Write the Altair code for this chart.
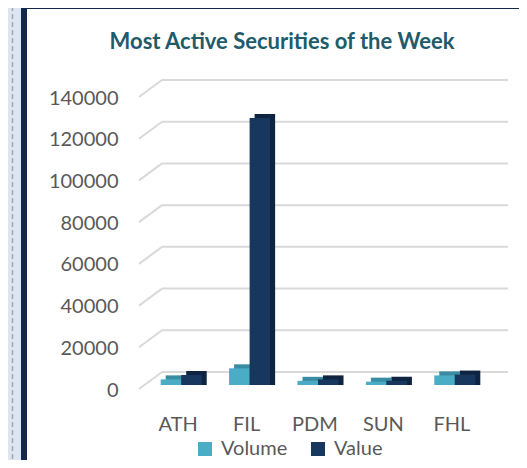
import altair as alt
import pandas as pd

categories = ["ATH", "FIL", "PDM", "SUN", "FHL"]
series = ["Volume", "Value"]
volume = [2700, 8000, 2000, 1600, 4600]
value = [4800, 128000, 2700, 2000, 5000]
y_ticks = [0, 20000, 40000, 60000, 80000, 100000, 120000, 140000]
title_text = "Most Active Securities of the Week"

front_colors = ["#4bacc6", "#17375e"]

rows = []
for c, vo, va in zip(categories, volume, value):
    rows.append({"sec": c, "series": "Volume", "amount": vo})
    rows.append({"sec": c, "series": "Value", "amount": va})
df = pd.DataFrame(rows)
grid_df = pd.DataFrame({"amount": y_ticks})
one = pd.DataFrame({"k": [0]})

W, H = 342, 292
FONT = "Lato"
LABEL = "#595959"

yscale = alt.Scale(domain=[0, 140000], nice=False, zero=True)
yaxis = alt.Axis(values=y_ticks, format="d", grid=False, domain=False, ticks=False, tickSize=0,
                 labelPadding=29, labelOffset=5, labelFont=FONT, labelFontSize=20,
                 labelColor=LABEL, title=None)
Y = alt.Y("amount:Q", scale=yscale, axis=yaxis, stack=None)

xoff = alt.XOffset("series:N", sort=series, scale=alt.Scale(paddingInner=0, paddingOuter=0))

# decorations (page strip, dashed separator, frame)
strip = alt.Chart(one).mark_rect(color="#dce6f2").encode(
    x=alt.value(-139), x2=alt.value(-121), y=alt.value(-95), y2=alt.value(380))
dashed = alt.Chart(one).mark_rule(color="#a6a6a6", strokeWidth=1.5, strokeDash=[5, 3]).encode(
    x=alt.value(-134.5), y=alt.value(-95), y2=alt.value(380))
frame_left = alt.Chart(one).mark_rect(color="#13294b").encode(
    x=alt.value(-126), x2=alt.value(-120), y=alt.value(-90), y2=alt.value(380))
frame_top = alt.Chart(one).mark_rect(color="#13294b").encode(
    x=alt.value(-126), x2=alt.value(390), y=alt.value(-90), y2=alt.value(-84))

title = alt.Chart(one).mark_text(text=title_text, font=FONT, fontSize=22, fontWeight="bold",
                                 color="#215b6b", align="center", baseline="alphabetic").encode(
    x=alt.value(135), y=alt.value(-44))

grid = alt.Chart(grid_df).mark_rule(color="#d9d9d9", strokeWidth=2, yOffset=-13).encode(
    y=Y, x=alt.value(15), x2=alt.value(361))
stubs = alt.Chart(grid_df).mark_rule(color="#d9d9d9", strokeWidth=2, yOffset=4, y2Offset=-13).encode(
    y=Y, y2="amount:Q", x=alt.value(-8), x2=alt.value(15))

back = alt.Chart(df).mark_bar(yOffset=-4, y2Offset=-4).encode(
    x=alt.X("sec:N", sort=categories,
            scale=alt.Scale(paddingInner=0.4, paddingOuter=0.2, range=[5, W + 5]), axis=None),
    xOffset=xoff,
    y=Y,
    color=alt.condition(alt.datum.series == "Volume", alt.value("#3a8ca3"), alt.value("#0f2440")),
)

front = alt.Chart(df).mark_bar().encode(
    x=alt.X("sec:N", sort=categories, scale=alt.Scale(paddingInner=0.4, paddingOuter=0.2),
            axis=alt.Axis(domain=False, ticks=False, tickSize=0, labelPadding=29, labelOffset=-3,
                          labelAngle=0, labelFont=FONT, labelFontSize=20, labelColor=LABEL,
                          title=None)),
    xOffset=xoff,
    y=Y,
    color=alt.Color("series:N", scale=alt.Scale(domain=series, range=front_colors),
                    legend=alt.Legend(title=None, orient="none", legendX=48, legendY=346,
                                      direction="horizontal", symbolType="square",
                                      symbolSize=196, symbolStrokeWidth=0, labelFont=FONT,
                                      labelFontSize=20, labelColor=LABEL, columnPadding=20,
                                      labelOffset=6)),
)

chart = alt.layer(strip, dashed, frame_left, frame_top, title, grid, stubs, back, front).resolve_scale(
    x="independent"
).properties(
    width=W, height=H,
    autosize=alt.AutoSizeParams(type="none"),
    padding={"left": 139, "top": 85, "right": 30, "bottom": 75},
    background="white",
).configure_view(stroke=None)

chart.save("out.html", embed_options={"renderer": "svg", "actions": False})
